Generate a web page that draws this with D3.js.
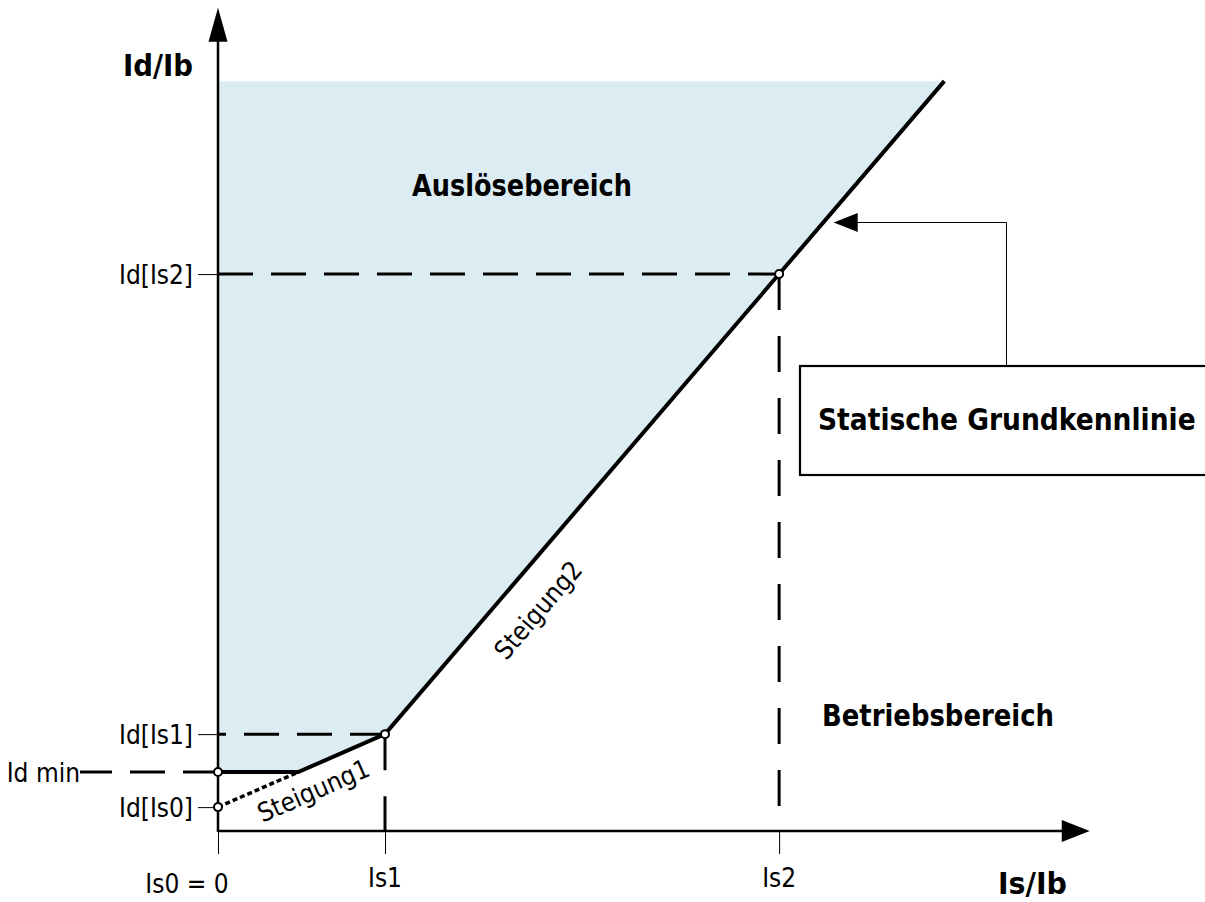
<!DOCTYPE html>
<html>
<head>
<meta charset="utf-8">
<script src="https://cdn.jsdelivr.net/npm/d3@7"></script>
<style>
  html, body { margin: 0; padding: 0; background: #ffffff; }
  svg { display: block; }
  .reg { font-family: "DejaVu Sans Condensed", "DejaVu Sans", sans-serif; font-size: 26px; fill: #000; }
  .bold { font-family: "DejaVu Sans Condensed", "DejaVu Sans", sans-serif; font-weight: bold; font-size: 31px; fill: #000; }
  .boxlabel { font-family: "DejaVu Sans Condensed", "DejaVu Sans", sans-serif; font-weight: bold; font-size: 29.5px; fill: #000; }
</style>
</head>
<body>
<svg id="chart" width="1205" height="902"></svg>
<script>
// Characteristic break points (per-unit values, Is/Ib on x, Id/Ib on y)
const breakX = [0, 1.0, 3.36];                 // Is0, Is1, Is2
const breakXLabels = ["Is0 = 0", "Is1", "Is2"];
const levelY = [0.143, 0.353, 0.58, 3.335];    // Id[Is0], Id min, Id[Is1], Id[Is2]
const levelYLabels = ["Id[Is0]", "Id min", "Id[Is1]", "Id[Is2]"];
const slope1 = 0.437;                           // Steigung1
const slope2 = 1.1675;                          // Steigung2
const regionTop = 4.49;                         // upper edge of the tripping area
const axisMax = { x: 5.22, y: 4.93 };

const svg = d3.select("#chart");
const x = d3.scaleLinear().domain([0, 1]).range([218, 385]);
const y = d3.scaleLinear().domain([0, 1]).range([831, 664]);

const [is0, is1, is2] = breakX;
const [idIs0, idMin, idIs1, idIs2] = levelY;
const kneeX = (idMin - idIs0) / slope1;          // where Steigung1 meets Id min
const topX = is1 + (regionTop - idIs1) / slope2; // where Steigung2 meets the top edge

// Characteristic curve
const curve = [
  [is0, idMin],
  [kneeX, idMin],
  [is1, idIs1],
  [is2, idIs2],
  [topX, regionTop]
];

const line = d3.line().x(d => x(d[0])).y(d => y(d[1]));

// Tripping area (Auslösebereich)
svg.append("path")
  .attr("d", line([[is0, regionTop], ...curve.slice().reverse()]) + "Z")
  .attr("fill", "#dbedf3");

// Tick marks on the axes
const xAxis = d3.axisBottom(x).tickValues(breakX).tickSize(23).tickFormat("");
svg.append("g").attr("transform", `translate(0,${y(0)})`).call(xAxis)
  .call(g => g.select(".domain").remove())
  .call(g => g.selectAll(".tick line").attr("stroke", "#000").attr("stroke-width", 1));

const yTicks = [idIs0, idIs1, idIs2];
const yAxis = d3.axisLeft(y).tickValues(yTicks).tickSize(20).tickFormat("");
svg.append("g").attr("transform", `translate(${x(0)},0)`).call(yAxis)
  .call(g => g.select(".domain").remove())
  .call(g => g.selectAll(".tick line").attr("stroke", "#000").attr("stroke-width", 1));

// Dashed guide lines
const dashH = "35,18";
const dashV = "36,26";
const guide = (pts, dash) => svg.append("path")
  .attr("d", line(pts)).attr("fill", "none")
  .attr("stroke", "#000").attr("stroke-width", 3).attr("stroke-dasharray", dash);

guide([[is0, idIs2], [is2, idIs2]], dashH);
guide([[is1, idIs1], [is0, idIs1]], dashH);
guide([[is1, idIs1], [is1, 0]], dashV);
guide([[is2, idIs2], [is2, 0]], dashV);
// Id min level, running out to the label on the left
svg.append("line")
  .attr("x1", x(0)).attr("x2", 80)
  .attr("y1", y(idMin)).attr("y2", y(idMin))
  .attr("stroke", "#000").attr("stroke-width", 3).attr("stroke-dasharray", dashH);

// Steigung1 extension down to Id[Is0] (dotted)
svg.append("path")
  .attr("d", line([[is0, idIs0], [kneeX, idMin]]))
  .attr("fill", "none").attr("stroke", "#000").attr("stroke-width", 3.5)
  .attr("stroke-dasharray", "5,3");

// Axes with arrow heads
const axisStroke = 2.5;
svg.append("line").attr("x1", x(0)).attr("x2", x(axisMax.x) - 20)
  .attr("y1", y(0)).attr("y2", y(0)).attr("stroke", "#000").attr("stroke-width", axisStroke);
svg.append("line").attr("x1", x(0)).attr("x2", x(0))
  .attr("y1", y(0) + 1).attr("y2", y(axisMax.y) + 20).attr("stroke", "#000").attr("stroke-width", axisStroke);

const arrow = (tip, dir, len, half) => {
  const [tx, ty] = tip, [dx, dy] = dir;
  const bx = tx - dx * len, by = ty - dy * len;
  const px = -dy * half, py = dx * half;
  return `M${tx},${ty}L${bx + px},${by + py}L${bx - px},${by - py}Z`;
};
svg.append("path").attr("d", arrow([x(axisMax.x), y(0)], [1, 0], 28, 11)).attr("fill", "#000");
svg.append("path").attr("d", arrow([x(0), y(axisMax.y)], [0, -1], 34, 9.5)).attr("fill", "#000");

// Characteristic line
svg.append("path").attr("d", line(curve))
  .attr("fill", "none").attr("stroke", "#000").attr("stroke-width", 4)
  .attr("stroke-linejoin", "miter");

// Break point markers
const markers = [[is0, idMin], [is0, idIs0], [is1, idIs1], [is2, idIs2]];
svg.selectAll("circle.pt").data(markers).join("circle")
  .attr("class", "pt")
  .attr("cx", d => x(d[0])).attr("cy", d => y(d[1])).attr("r", 4)
  .attr("fill", "#fff").attr("stroke", "#000").attr("stroke-width", 2);

// Tick labels
const xLabelShift = [-31, 0, 0];
const xLabelBase = [893, 887, 887];
svg.selectAll("text.xl").data(breakX).join("text")
  .attr("class", "reg xl")
  .attr("x", (d, i) => x(d) + xLabelShift[i])
  .attr("y", (d, i) => xLabelBase[i])
  .attr("text-anchor", "middle")
  .text((d, i) => breakXLabels[i]);

svg.selectAll("text.yl").data(levelY).join("text")
  .attr("class", "reg yl")
  .attr("x", (d, i) => i === 1 ? 80 : 193)
  .attr("y", d => y(d) + 10)
  .attr("text-anchor", "end")
  .text((d, i) => levelYLabels[i]);

// Axis titles and region names
const boldText = (text, px, py, w) => svg.append("text").attr("class", "bold")
  .attr("x", px).attr("y", py)
  .attr("textLength", w).attr("lengthAdjust", "spacingAndGlyphs")
  .text(text);
boldText("Id/Ib", 123, 76, 70);
boldText("Is/Ib", 998, 894, 69);
boldText("Auslösebereich", 412, 196, 220);
boldText("Betriebsbereich", 822, 726, 232);

// Slope labels along the segments
const slopeLabel = (text, px, py, angleDeg) => svg.append("text")
  .attr("class", "reg")
  .attr("transform", `translate(${px},${py}) rotate(${-angleDeg})`)
  .attr("text-anchor", "middle")
  .text(text);
const ang1 = Math.atan(slope1) * 180 / Math.PI;
const ang2 = Math.atan(slope2) * 180 / Math.PI;
slopeLabel("Steigung1", 317, 799, ang1);
slopeLabel("Steigung2", 545, 616, ang2);

// Callout box with leader arrow pointing at the characteristic
const calloutY = 3.647;
const tipX = x(is1 + (calloutY - idIs1) / slope2) + 10;
const tipY = Math.round(y(calloutY)) + 0.5;
svg.append("rect").attr("x", 800).attr("y", 366).attr("width", 430).attr("height", 109)
  .attr("fill", "#fff").attr("stroke", "#000").attr("stroke-width", 2.2);
svg.append("polyline")
  .attr("points", `1006.5,366 1006.5,${tipY} ${tipX + 20},${tipY}`)
  .attr("fill", "none").attr("stroke", "#000").attr("stroke-width", 1);
svg.append("path").attr("d", arrow([tipX, tipY], [-1, 0], 24, 9.5)).attr("fill", "#000");
svg.append("text").attr("class", "boxlabel").attr("x", 818).attr("y", 430).text("Statische Grundkennlinie");
</script>
</body>
</html>
